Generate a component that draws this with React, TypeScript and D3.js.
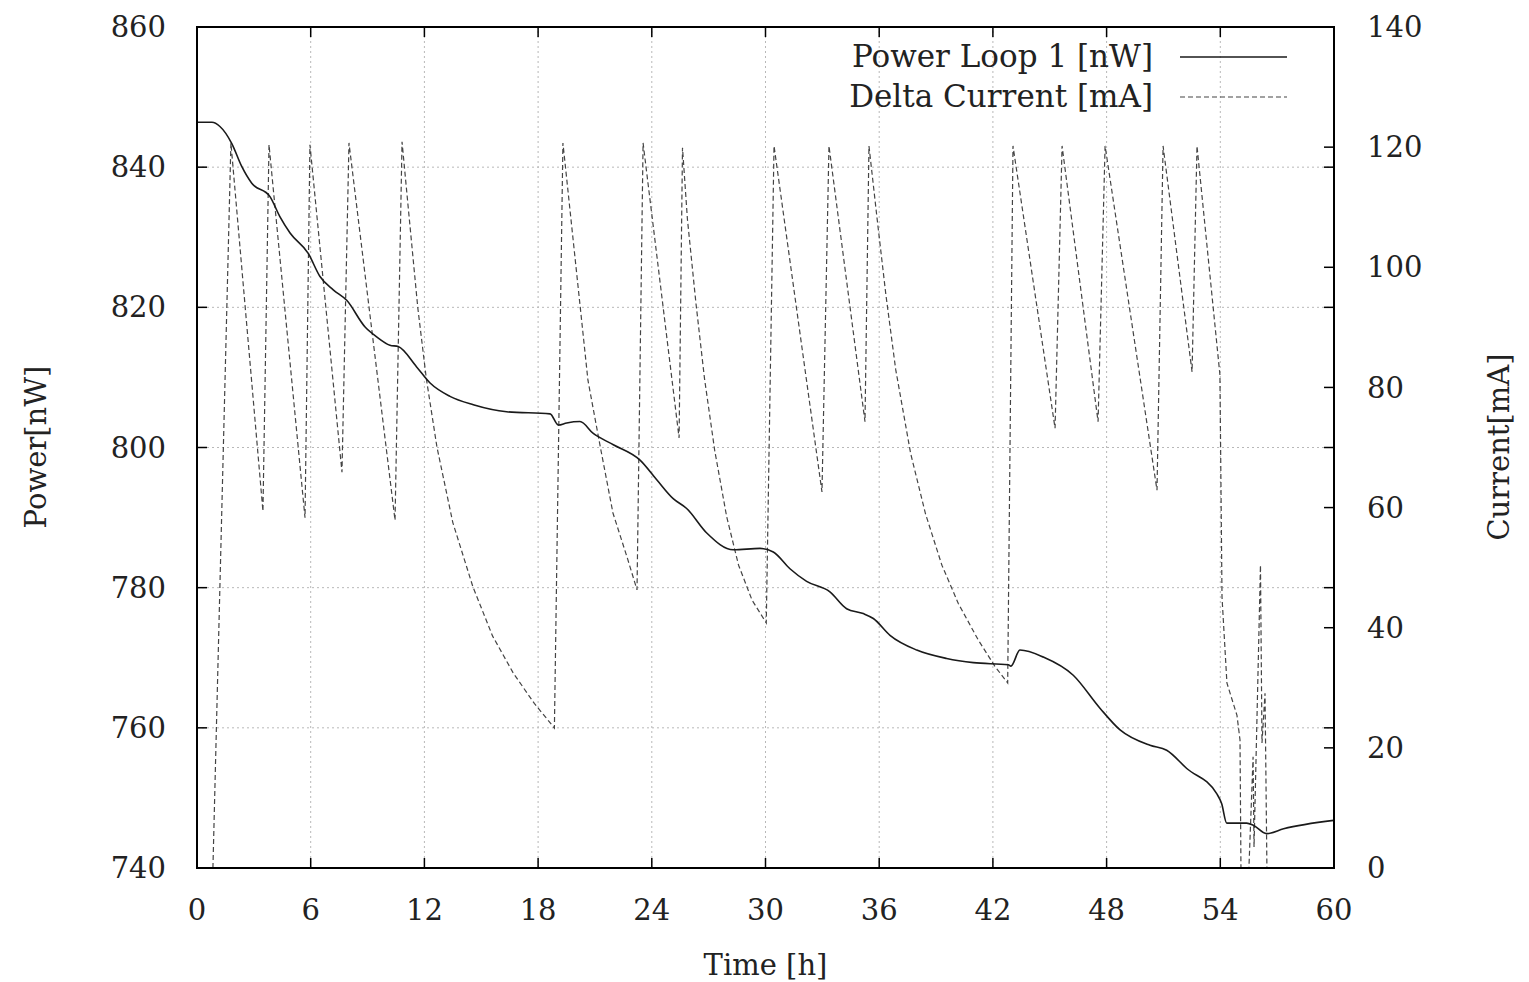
import React from 'react';
import * as d3 from 'd3';

// chart size and plot frame
const width = 1529;
const height = 982;
const margin = { top: 27, right: 195, bottom: 114, left: 197 };

// data: time [h] and value
const powerTime = [0, 0.79, 1.21, 1.83, 2.36, 2.89, 3.85, 4.38, 4.91, 5.87, 6.49, 7.19, 7.9, 8.87, 9.48, 10.18, 10.62, 11.59, 12.3, 13.35, 14.58, 16.34, 18.63, 19.07, 19.51, 20.21, 20.91, 21.97, 23.38, 24.26, 25.13, 25.84, 26.9, 28.3, 29.71, 30.41, 31.29, 32.17, 33.4, 34.28, 35.16, 35.69, 36.57, 37.98, 39.56, 40.97, 42.81, 42.95, 43.43, 44.66, 46.24, 47.65, 48.71, 50.29, 51.17, 52.23, 53.81, 54.07, 54.34, 55.39, 55.74, 56.44, 57.34, 59.98];
const powerValues = [846.4, 846.4, 845.8, 843.4, 840.1, 837.7, 835.8, 832.9, 830.6, 827.7, 824.4, 822.5, 821.0, 817.2, 815.8, 814.6, 814.4, 811.5, 809.2, 807.3, 806.1, 805.1, 804.8, 803.2, 803.5, 803.7, 802.0, 800.4, 798.2, 795.4, 792.7, 791.3, 787.8, 785.4, 785.6, 785.1, 782.7, 780.9, 779.4, 777.0, 776.3, 775.6, 773.2, 771.1, 769.9, 769.3, 769.0, 768.8, 771.1, 770.1, 767.5, 762.8, 759.7, 757.5, 756.8, 754.2, 750.6, 749.2, 746.4, 746.4, 746.1, 744.9, 745.6, 746.8];

const currentTime = [0, 0.84, 1.79, 3.48, 3.8, 5.7, 5.96, 7.65, 8.02, 10.45,
  10.82, 11.1, 11.65, 12.1, 12.66, 13.5, 14.56, 15.6, 16.7, 17.8, 18.86,
  19.31, 20.63, 21.27, 21.95, 22.69, 23.22, 23.54, 25.44,
  25.62, 25.88, 26.33, 26.78, 27.32, 27.95, 28.58, 29.29, 30.04,
  30.45, 32.98, 33.35, 35.25,
  35.46, 35.9, 36.35, 36.87, 37.66, 38.44, 39.31, 40.18, 41.22, 42.1, 42.78,
  43.06, 45.28, 45.65, 47.55, 47.92, 50.66, 50.98, 52.51, 52.77, 53.98, 54.09, 54.35, 54.88, 55.04, 55.09, 55.51, 55.73, 55.78, 56.12, 56.2, 56.36, 56.46];
const currentValues = [0, 0, 120.7, 59.4, 120.4, 58.3, 120.4, 65.9, 120.7, 57.9,
  120.9, 111.5, 93.3, 81.5, 70.1, 57.5, 46.8, 38.6, 32.4, 27.4, 23.3,
  120.7, 81.2, 70.3, 59.1, 51.8, 46.3, 120.7, 71.6,
  119.9, 108.0, 94.0, 81.5, 69.5, 58.5, 50.4, 44.6, 40.8,
  120.2, 62.6, 120.2, 74.3,
  120.2, 107.8, 95.5, 83.0, 69.0, 59.0, 50.4, 44.0, 38.0, 33.6, 30.8,
  120.2, 73.2, 120.2, 74.3, 120.2, 62.9, 120.2, 82.6, 120.2, 82.1, 45.1, 30.8, 25.4, 21.3, 0, 0, 18.5, 3.5, 50.4, 20.8, 29.1, 0];

const xTicks = [0, 6, 12, 18, 24, 30, 36, 42, 48, 54, 60];
const powerTicks = [740, 760, 780, 800, 820, 840, 860];
const currentTicks = [0, 20, 40, 60, 80, 100, 120, 140];

const legendLabels = ['Power Loop 1 [nW]', 'Delta Current [mA]'];

const font = '"DejaVu Serif", "Liberation Serif", serif';

const App = () => {
  const x0 = margin.left;
  const x1 = width - margin.right;
  const y0 = height - margin.bottom;
  const y1 = margin.top;

  const xScale = d3.scaleLinear().domain([0, 60]).range([x0, x1]);
  const yLeft = d3.scaleLinear().domain([740, 860]).range([y0, y1]);
  const yRight = d3.scaleLinear().domain([0, 140]).range([y0, y1]);

  const power = powerTime.map((t, i) => [t, powerValues[i]] as [number, number]);
  const current = currentTime.map((t, i) => [t, currentValues[i]] as [number, number]);

  const powerLine = d3.line<[number, number]>()
    .x(d => xScale(d[0]))
    .y(d => yLeft(d[1]))
    .curve(d3.curveMonotoneX);
  const currentLine = d3.line<[number, number]>()
    .x(d => xScale(d[0]))
    .y(d => yRight(d[1]));

  const tickLen = 10;
  const gridStyle = { stroke: '#b8b8b8', strokeWidth: 1, strokeDasharray: '2,3' };

  return (
    <svg width={width} height={height} style={{ position: 'absolute', left: 0, top: 0, background: '#fff' }}>
      <g fontFamily={font} fontSize={29} fill="#222">
        {/* grid */}
        {xTicks.slice(1, -1).map(t => (
          <line key={'gx' + t} x1={xScale(t)} x2={xScale(t)} y1={y0} y2={y1} {...gridStyle} />
        ))}
        {powerTicks.slice(1, -1).map(v => (
          <line key={'gy' + v} x1={x0} x2={x1} y1={yLeft(v)} y2={yLeft(v)} {...gridStyle} />
        ))}

        {/* ticks */}
        {xTicks.map(t => (
          <g key={'tx' + t}>
            <line x1={xScale(t)} x2={xScale(t)} y1={y0} y2={y0 - tickLen} stroke="#000" strokeWidth={1.5} />
            <line x1={xScale(t)} x2={xScale(t)} y1={y1} y2={y1 + tickLen} stroke="#000" strokeWidth={1.5} />
            <text x={xScale(t)} y={y0 + 52} textAnchor="middle">{t}</text>
          </g>
        ))}
        {powerTicks.map(v => (
          <g key={'ty' + v}>
            <line x1={x0} x2={x0 + tickLen} y1={yLeft(v)} y2={yLeft(v)} stroke="#000" strokeWidth={1.5} />
            <line x1={x1} x2={x1 - tickLen} y1={yLeft(v)} y2={yLeft(v)} stroke="#000" strokeWidth={1.5} />
            <text x={x0 - 31} y={yLeft(v)} dy="0.35em" textAnchor="end">{v}</text>
          </g>
        ))}
        {currentTicks.map(v => (
          <g key={'ty2' + v}>
            <line x1={x1} x2={x1 - tickLen} y1={yRight(v)} y2={yRight(v)} stroke="#000" strokeWidth={1.5} />
            <text x={x1 + 33} y={yRight(v)} dy="0.35em" textAnchor="start">{v}</text>
          </g>
        ))}

        {/* data */}
        <path d={currentLine(current) || ''} fill="none" stroke="#444" strokeWidth={1.2} strokeDasharray="5,3" />
        <path d={powerLine(power) || ''} fill="none" stroke="#1a1a1a" strokeWidth={1.6} />

        {/* frame */}
        <rect x={x0} y={y1} width={x1 - x0} height={y0 - y1} fill="none" stroke="#000" strokeWidth={2} />

        {/* axis titles */}
        <text x={(x0 + x1) / 2} y={975} textAnchor="middle">Time [h]</text>
        <text transform={`translate(46,447) rotate(-90)`} textAnchor="middle">Power[nW]</text>
        <text transform={`translate(1509,447) rotate(-90)`} textAnchor="middle">Current[mA]</text>

        {/* legend */}
        <text x={1153} y={56} dy="0.35em" textAnchor="end" fontSize={31}>{legendLabels[0]}</text>
        <line x1={1180} x2={1287} y1={57} y2={57} stroke="#1a1a1a" strokeWidth={1.4} />
        <text x={1153} y={96} dy="0.35em" textAnchor="end" fontSize={31}>{legendLabels[1]}</text>
        <line x1={1180} x2={1287} y1={97} y2={97} stroke="#444" strokeWidth={1.2} strokeDasharray="5,3" />
      </g>
    </svg>
  );
};

export default App;
